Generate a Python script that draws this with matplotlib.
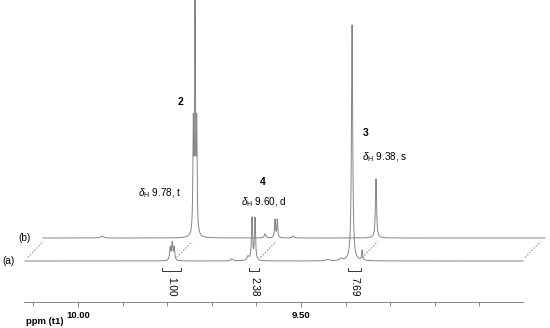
import numpy as np
import matplotlib
matplotlib.use('Agg')
import matplotlib.pyplot as plt
from matplotlib.ticker import FixedLocator, FormatStrFormatter

plt.rcParams['font.family'] = ['Liberation Sans', 'DejaVu Sans']
plt.rcParams['mathtext.fontset'] = 'custom'
plt.rcParams['mathtext.rm'] = 'Liberation Sans'
plt.rcParams['mathtext.it'] = 'Liberation Sans:italic'
plt.rcParams['mathtext.bf'] = 'Liberation Sans:bold'

# ---------------- data (ppm, relative intensity) ----------------
# spectrum (a)
a_centers = [9.7933, 9.7888, 9.7843, 9.6099, 9.6031, 9.619, 9.3855, 9.363, 9.655, 9.44, 9.41]
a_heights = [13, 17, 13, 42, 42, 4, 236, 10, 2, 1.5, 2]
a_widths = [0.0015, 0.0015, 0.0015, 0.0014, 0.0014, 0.003, 0.0016, 0.0012, 0.003, 0.004, 0.004]
a_range = (10.119, 9.002)

# spectrum (b)
b_centers = [9.7908, 9.7870, 9.7832, 9.6076, 9.6025, 9.3812, 9.9955, 9.630, 9.567]
b_heights = [105, 225, 105, 18, 18, 59, 2, 4, 2]
b_widths = [0.0011, 0.0011, 0.0011, 0.0012, 0.0012, 0.0015, 0.003, 0.002, 0.002]
b_range = (10.128, 9.002)

# integrals (a)
int_ranges = [(9.8117, 9.7691), (9.6166, 9.5942), (9.3946, 9.3655)]
int_values = ["1.00", "2.38", "7.69"]

# stacked-plot connector positions (ppm)
connector_ppm = [10.12, 9.786, 9.598, 9.37, 9.005]

# axis ticks
major_ticks = [10.0, 9.5]
minor_ticks = [10.1, 9.9, 9.8, 9.7, 9.6, 9.4, 9.3, 9.2, 9.1]
axis_bounds = (10.121, 9.002)

# annotations
compound_labels = ["2", "4", "3"]
shift_labels = [r"$\delta_{\rm H}$ 9.78, t", r"$\delta_{\rm H}$ 9.60, d", r"$\delta_{\rm H}$ 9.38, s"]

# ---------------- layout ----------------
W, H = 550, 328
PX_PER_PPM = 446.0
X0_PPM, X0_PX = 10.0, 78.0
BASE_A, BASE_B = 261.0, 238.0
SHIFT_PX = 22.0
AXIS_Y = 302.0
GREY = '#858585'


def px2ppm(px):
    return X0_PPM - (px - X0_PX) / PX_PER_PPM


def lorentz(x, centers, heights, widths):
    y = np.zeros_like(x)
    for c, h, w in zip(centers, heights, widths):
        y += h / (1.0 + ((x - c) / w) ** 2)
    return y


fig = plt.figure(figsize=(5.5, 3.28), dpi=100)
ax = fig.add_axes([0, 0, 1, 1])
ax.set_xlim(px2ppm(0), px2ppm(W))
ax.set_ylim(H, 0)
shift_ppm = SHIFT_PX / PX_PER_PPM

# spectra
xa = np.linspace(a_range[0], a_range[1], 20000)
ya = BASE_A - lorentz(xa, a_centers, a_heights, a_widths)
xb = np.linspace(b_range[0], b_range[1], 20000)
yb = BASE_B - lorentz(xb, b_centers, b_heights, b_widths)
ax.plot(xb - shift_ppm, yb, color=GREY, lw=0.7)
ax.plot(xa, ya, color=GREY, lw=0.7)

# connectors
dy = BASE_B - BASE_A
for c in connector_ppm:
    f0, f1 = 0.15, 0.85
    ax.plot([c - shift_ppm * f0, c - shift_ppm * f1],
            [BASE_A + dy * f0, BASE_A + dy * f1],
            color=GREY, lw=0.7, ls=(0, (1.6, 1.6)))

# integrals
for (x1, x2), v in zip(int_ranges, int_values):
    ax.plot([x1, x1, x2, x2], [268, 271, 271, 268], color='#333333', lw=0.7)
    ax.text((x1 + x2) / 2, 287, v, rotation=-90, ha='center', va='center',
            fontsize=7.2, color='black')

# axis
for s in ['top', 'left', 'right']:
    ax.spines[s].set_visible(False)
ax.spines['bottom'].set_position(('data', AXIS_Y))
ax.spines['bottom'].set_bounds(*axis_bounds)
ax.spines['bottom'].set_color(GREY)
ax.spines['bottom'].set_linewidth(0.7)
ax.yaxis.set_visible(False)
ax.xaxis.set_major_locator(FixedLocator(major_ticks))
ax.xaxis.set_minor_locator(FixedLocator(minor_ticks))
ax.xaxis.set_major_formatter(FormatStrFormatter('%.2f'))
ax.tick_params(axis='x', which='major', direction='out', length=3.6, width=0.7,
               color=GREY, labelsize=6.8, pad=2.8)
ax.tick_params(axis='x', which='minor', direction='out', length=2.8, width=0.7,
               color=GREY)
for lab in ax.get_xticklabels():
    lab.set_fontweight('bold')

# texts (pixel positions)
def ptext(x, y, s, **kw):
    ax.text(px2ppm(x), y, s, **kw)

ptext(26, 321, "ppm (t1)", fontsize=6.8, fontweight='bold', ha='left', va='center')
ptext(2, 261, "(a)", fontsize=7.2, ha='left', va='center')
ptext(18, 238, "(b)", fontsize=7.2, ha='left', va='center')

comp_pos = [(180, 102), (263, 182), (366, 133)]
shift_pos = [(160, 193), (264, 202), (385, 157)]
for s, (x, y) in zip(compound_labels, comp_pos):
    ptext(x, y, s, fontsize=7.5, fontweight='bold', ha='center', va='center')
for s, (x, y) in zip(shift_labels, shift_pos):
    ptext(x, y, s, fontsize=7.2, ha='center', va='center')

fig.savefig('out.png', dpi=100)
